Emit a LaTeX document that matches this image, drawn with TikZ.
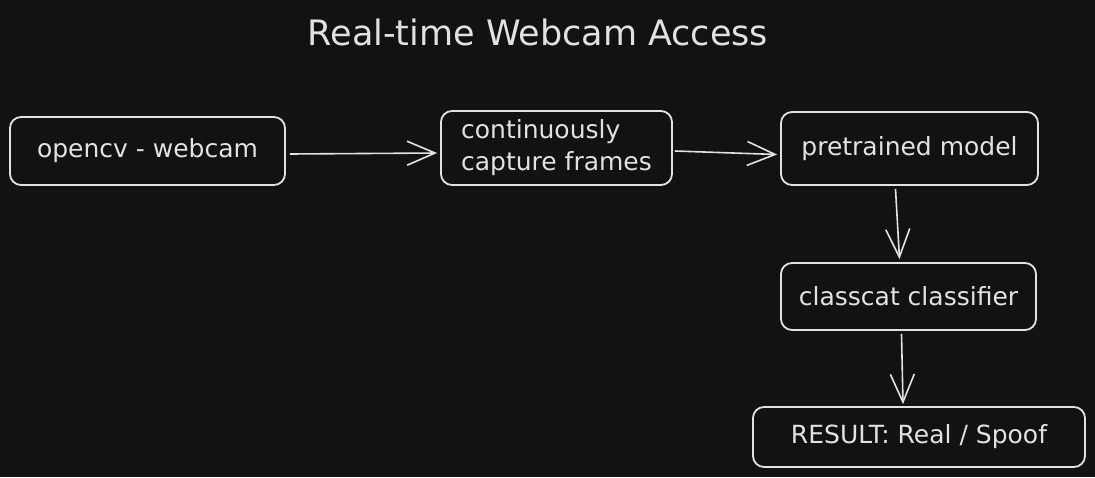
\documentclass[tikz,border=0pt]{standalone}
\usepackage{fontspec}
\setmainfont{DejaVu Sans}
\usetikzlibrary{arrows.meta}
\definecolor{bg}{HTML}{121212}
\definecolor{ink}{HTML}{E2E2E2}
\tikzset{
  box/.style={draw=ink, line width=1.8pt, rounded corners=11pt, text=ink,
    font=\fontsize{25}{32}\selectfont, inner sep=0pt, align=center},
  conn/.style={draw=ink, line width=1.6pt,
    -{Straight Barb[length=28pt,width=24pt,line width=1.6pt]}},
}
\begin{document}
\begin{tikzpicture}[x=1pt,y=-1pt]
\fill[bg] (0,0) rectangle (1095,477);
\useasboundingbox (0,0) rectangle (1095,477);
\node[text=ink, font=\fontsize{35}{40}\selectfont] (title) at (538,32) {Real-time Webcam Access};
\node[box, minimum width=275pt, minimum height=68pt] (b1) at (147.5,151) {opencv - webcam};
\node[box, minimum width=231pt, minimum height=74pt, align=left] (b2) at (556.5,148) {continuously\\capture frames};
\node[box, minimum width=257pt, minimum height=73pt] (b3) at (909.5,148.5) {pretrained model};
\node[box, minimum width=255pt, minimum height=67pt] (b4) at (908.5,296.5) {classcat classifier};
\node[box, minimum width=332pt, minimum height=60pt] (b5) at (919,437) {RESULT: Real / Spoof};
\draw[conn] ([xshift=4pt,yshift=-3pt]b1.east) -- ([xshift=-3pt,yshift=-5pt]b2.west);
\draw[conn] ([xshift=2pt,yshift=-3pt]b2.east) -- ([xshift=-3pt,yshift=-6pt]b3.west);
\draw[conn] ([xshift=-14pt,yshift=-3pt]b3.south) -- ([xshift=-9pt,yshift=3pt]b4.north);
\draw[conn] ([xshift=-7pt,yshift=-3pt]b4.south) -- ([xshift=-16pt,yshift=2pt]b5.north);
\end{tikzpicture}
\end{document}
